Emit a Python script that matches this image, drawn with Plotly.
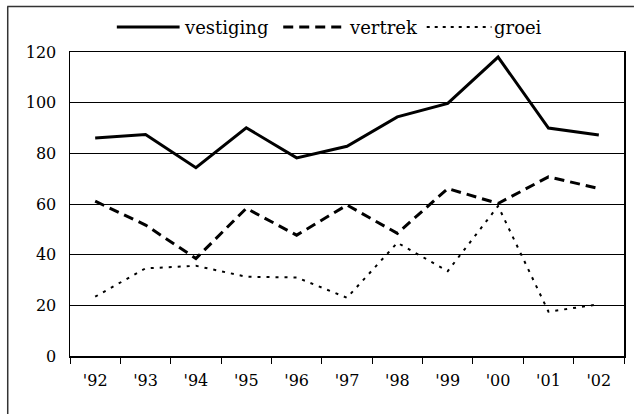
import plotly.graph_objects as go

years = ["'92", "'93", "'94", "'95", "'96", "'97", "'98", "'99", "'00", "'01", "'02"]
vestiging = [86.1, 87.4, 74.3, 90.1, 78.2, 82.8, 94.4, 99.7, 118.0, 90.0, 87.2]
vertrek = [61.1, 51.7, 38.5, 58.3, 47.7, 59.6, 48.4, 66.1, 60.2, 70.7, 66.1]
groei = [23.4, 34.6, 35.6, 31.3, 31.0, 23.0, 44.7, 33.5, 59.2, 17.5, 20.4]
y_ticks = [0, 20, 40, 60, 80, 100, 120]

FONT = "DejaVu Serif"
W, H = 636, 414
L, R, T, B = 70, 10, 52, 58
PW, PH = W - L - R, H - T - B


def px(x):
    return (x - L) / PW


def py(y):
    return (H - B - y) / PH


fig = go.Figure()
fig.add_trace(go.Scatter(x=years, y=vestiging, mode="lines", name="vestiging",
                         line=dict(color="black", width=3), showlegend=False))
fig.add_trace(go.Scatter(x=years, y=vertrek, mode="lines", name="vertrek",
                         line=dict(color="black", width=3, dash="10px,6px"), showlegend=False))
fig.add_trace(go.Scatter(x=years, y=groei, mode="lines", name="groei",
                         line=dict(color="black", width=2, dash="3px,6px"), showlegend=False))

shapes = []
# outer frame (top and left edges visible)
shapes.append(dict(type="line", xref="paper", yref="paper", x0=px(7), x1=px(W), y0=py(6.5), y1=py(6.5),
                   line=dict(color="#333333", width=1.5)))
shapes.append(dict(type="line", xref="paper", yref="paper", x0=px(7.5), x1=px(7.5), y0=py(6.5), y1=py(H),
                   line=dict(color="#333333", width=1.5)))

# manual legend
leg_y = py(27)
legend_items = [
    ("vestiging", 117, 180, dict(color="black", width=3), 182),
    ("vertrek", 284, 347, dict(color="black", width=3, dash="10px,6px"), 348),
    ("groei", 428, 493, dict(color="black", width=2, dash="3px,5px"), 494),
]
annotations = []
for name, x0, x1, ln, tx in legend_items:
    shapes.append(dict(type="line", xref="paper", yref="paper", x0=px(x0), x1=px(x1), y0=leg_y, y1=leg_y, line=ln))
    annotations.append(dict(text=name, xref="paper", yref="paper", x=px(tx), y=leg_y, xanchor="left",
                            yanchor="middle", showarrow=False, font=dict(family=FONT, size=18, color="black")))

fig.update_layout(
    width=W, height=H,
    margin=dict(l=L, r=R, t=T, b=B),
    paper_bgcolor="white", plot_bgcolor="white",
    font=dict(family=FONT, size=16, color="black"),
    shapes=shapes, annotations=annotations,
    xaxis=dict(type="category", range=[-0.5, 10.5], showline=True, mirror=True, linecolor="black", linewidth=1.5,
               ticks="outside", tickson="boundaries", ticklen=6, tickcolor="black", tickwidth=1,
               showgrid=False, ticklabelstandoff=9, fixedrange=True),
    yaxis=dict(range=[0, 120], tickvals=y_ticks, showline=True, mirror=True, linecolor="black",
               linewidth=1.5, showgrid=True, gridcolor="black", gridwidth=1, zeroline=False,
               ticks="", ticklabelstandoff=9, fixedrange=True),
)

fig.write_html("out.html", post_script="document.body.style.margin='0';",
               config={"displayModeBar": False, "staticPlot": True})
